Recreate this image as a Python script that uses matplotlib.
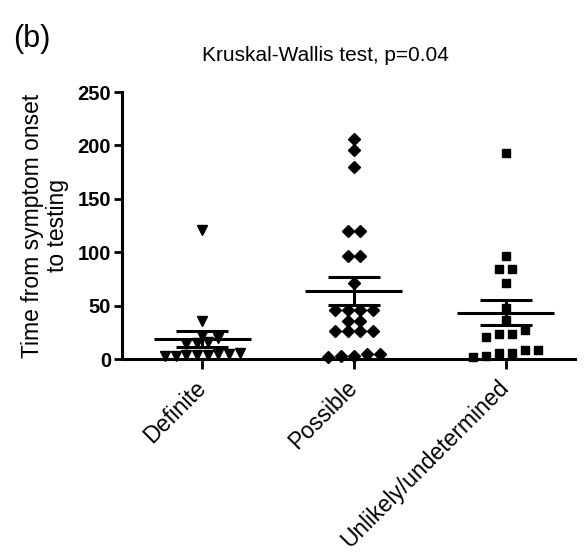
import numpy as np
import matplotlib.pyplot as plt

plt.rcParams['font.family'] = ['Liberation Sans', 'DejaVu Sans']

# values (days from symptom onset to testing)
categories = ['Definite', 'Possible', 'Unlikely/undetermined']
definite = [121, 36, 22, 20, 16, 15, 14, 6, 5, 5, 4, 4, 4, 3, 3]
possible = [206, 196, 180, 120, 120, 96, 96, 71, 46, 46, 46, 46, 36, 36,
            26, 26, 26, 26, 5, 3, 2, 3, 5]
unlikely = [193, 96, 84, 84, 71, 48, 37, 27, 23, 21, 23, 8, 6, 3, 2, 6, 8]
markers = ['v', 'D', 's']
marker_sizes = [7.5, 6, 6]
yticks = [0, 50, 100, 150, 200, 250]


def swarm_offsets(vals, tol=6.0, step=0.085):
    """Put points with close values in one row, side by side around the centre."""
    order = np.argsort(vals)
    offs = np.zeros(len(vals))
    row = []
    start = None
    rows = []
    for i in order:
        v = vals[i]
        if start is None or v - start > tol:
            if row:
                rows.append(row)
            row = [i]
            start = v
        else:
            row.append(i)
    if row:
        rows.append(row)
    for r in rows:
        n = len(r)
        for k, i in enumerate(r):
            offs[i] = (k - (n - 1) / 2) * step
    return offs


fig = plt.figure(figsize=(5.84, 5.52), dpi=100)
ax = fig.add_axes([0.209, 0.3496, 0.776, 0.4837])

for pos, (vals, m, ms) in enumerate(zip([definite, possible, unlikely], markers, marker_sizes)):
    vals = np.array(vals, dtype=float)
    step = 0.07 if pos == 0 else 0.085
    xs = pos + swarm_offsets(vals, step=step)
    ax.plot(xs, vals, linestyle='none', marker=m, markersize=ms, color='black',
            clip_on=False, zorder=3)
    mean = vals.mean()
    sem = vals.std(ddof=1) / np.sqrt(len(vals))
    ax.plot([pos - 0.32, pos + 0.32], [mean, mean], color='black', lw=2.2, zorder=4,
            solid_capstyle='butt')
    ax.errorbar([pos], [mean], yerr=[sem], fmt='none', ecolor='black', elinewidth=2.2,
                capsize=19, capthick=2.2, zorder=4)

ax.set_ylim(0, 250)
ax.set_xlim(-0.53, 2.46)
ax.set_yticks(yticks)
ax.set_yticklabels([str(t) for t in yticks], fontweight='bold', fontsize=14.5)
ax.set_xticks(range(len(categories)))
ax.set_xticklabels(categories, rotation=45, ha='right', va='center',
                   rotation_mode='anchor', fontsize=16.5)
ax.tick_params(axis='y', direction='out', length=6, width=2, pad=2)
ax.tick_params(axis='x', direction='out', length=7, width=2, pad=11)

for side in ['top', 'right']:
    ax.spines[side].set_visible(False)
for side in ['left', 'bottom']:
    ax.spines[side].set_linewidth(2.2)

ax.set_ylabel('Time from symptom onset\nto testing', fontsize=16.5, labelpad=6,
              linespacing=1.1)
ax.set_title('Kruskal-Wallis test, p=0.04', fontsize=15, pad=22, x=0.448)
fig.text(0.022, 0.915, '(b)', fontsize=22)

fig.savefig('out.png', dpi=100)
